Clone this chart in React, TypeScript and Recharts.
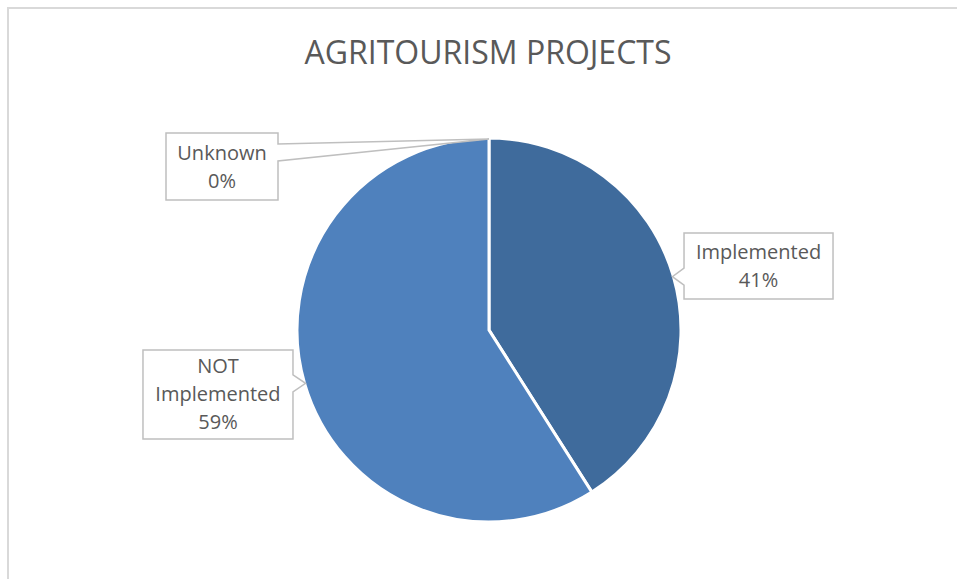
import { PieChart, Pie, Cell } from 'recharts';

const categories = ['Implemented', 'NOT Implemented', 'Unknown'];
const shares = [41, 59, 0];
const percentLabels = ['41%', '59%', '0%'];
const wrappedNames = [['Implemented'], ['NOT', 'Implemented'], ['Unknown']];

const sliceColors = ['#3f6b9c', '#4f81bd', '#7f9fcf'];
const FONT = '"Open Sans", "Noto Sans", sans-serif';
const TEXT = '#595959';
const RADIAN = Math.PI / 180;

// callout box per slice, offset from the point where the pointer touches the pie
const calloutBoxes = [
  { dx: 11.6, dy: -43.7, w: 149, h: 66 },
  { dx: -162.6, dy: -33.3, w: 150, h: 89 },
  { dx: -323, dy: -6, w: 112, h: 67 },
];

const data = categories.map((name, i) => ({ name, value: shares[i] }));

const renderCallout = (props: any) => {
  const { cx, cy, midAngle, outerRadius, index } = props;
  const box = calloutBoxes[index];
  const tipX = cx + Math.cos(-midAngle * RADIAN) * (outerRadius - 1);
  const tipY = cy + Math.sin(-midAngle * RADIAN) * (outerRadius - 1);
  const L = tipX + box.dx;
  const T = tipY + box.dy;
  const R = L + box.w;
  const B = T + box.h;

  // pointer base sits on the side of the box facing the pie
  const mid = Math.min(Math.max(tipY, T + 19.5), B - 19.5);
  const b1 = mid - 8.5;
  const b2 = mid + 8.5;
  let d: string;
  if (tipX < L) {
    d = `M${L},${T} L${R},${T} L${R},${B} L${L},${B} L${L},${b2} L${tipX},${tipY} L${L},${b1} Z`;
  } else {
    d = `M${L},${T} L${R},${T} L${R},${b1} L${tipX},${tipY} L${R},${b2} L${R},${B} L${L},${B} Z`;
  }

  const lines = [...wrappedNames[index], percentLabels[index]];
  const lineGap = 28;
  const centerY = (T + B) / 2;
  return (
    <g key={`callout-${index}`}>
      <path d={d} fill="#ffffff" stroke="#bfbfbf" strokeWidth={1.5} />
      {lines.map((line, i) => (
        <text
          key={i}
          x={(L + R) / 2}
          y={centerY + (i - (lines.length - 1) / 2) * lineGap + 7}
          textAnchor="middle"
          fontFamily={FONT}
          fontSize={20}
          fill={TEXT}
        >
          {line}
        </text>
      ))}
    </g>
  );
};

export default function App() {
  return (
    <div style={{ position: 'absolute', left: 0, top: 0, width: 957, height: 579, background: '#ffffff', overflow: 'hidden' }}>
      <div
        style={{
          position: 'absolute',
          left: 7,
          top: 7,
          width: 950,
          height: 572,
          boxSizing: 'border-box',
          borderTop: '2px solid #d9d9d9',
          borderLeft: '2px solid #d9d9d9',
        }}
      />
      <svg width={957} height={100} style={{ position: 'absolute', left: 0, top: 0 }}>
        <text x={488} y={64} textAnchor="middle" fontFamily={FONT} fontSize={32} fill={TEXT}>
          AGRITOURISM PROJECTS
        </text>
      </svg>
      <div style={{ position: 'absolute', left: 0, top: 0 }}>
        <PieChart width={957} height={579} margin={{ top: 0, right: 0, bottom: 0, left: 0 }}>
          <Pie
            data={data}
            dataKey="value"
            nameKey="name"
            cx={489}
            cy={330}
            outerRadius={192}
            startAngle={90}
            endAngle={-270}
            stroke="#ffffff"
            strokeWidth={3}
            label={renderCallout}
            labelLine={false}
            isAnimationActive={false}
          >
            {data.map((entry, i) => (
              <Cell key={entry.name} fill={sliceColors[i]} />
            ))}
          </Pie>
        </PieChart>
      </div>
    </div>
  );
}
